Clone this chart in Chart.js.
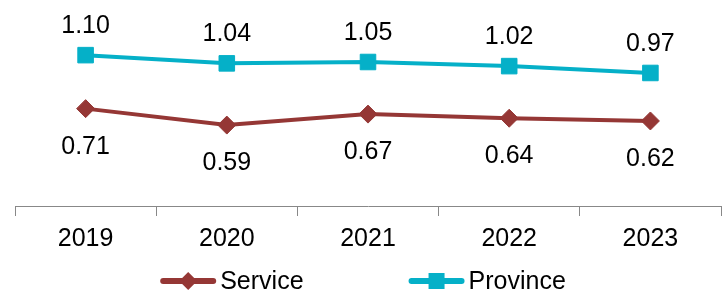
<!DOCTYPE html>
<html>
<head>
<meta charset="utf-8">
<script src="https://cdn.jsdelivr.net/npm/chart.js@4/dist/chart.umd.min.js"></script>
<style>
  html, body { margin: 0; padding: 0; background: #fff; }
  #wrap { width: 726px; height: 292px; }
</style>
</head>
<body>
<div id="wrap"><canvas id="chart"></canvas></div>
<script>
// ── data ──
const years    = ['2019', '2020', '2021', '2022', '2023'];
const service  = [0.71, 0.59, 0.67, 0.64, 0.62];
const province = [1.10, 1.04, 1.05, 1.02, 0.97];

const RED  = '#953735';
const TEAL = '#05b0c8';
const FONT = 'Arial, "Liberation Sans", sans-serif';
const FSIZE = 25;

// value labels above / below the points
const valueLabels = {
  id: 'valueLabels',
  afterDatasetsDraw(chart) {
    const ctx = chart.ctx;
    ctx.save();
    ctx.font = FSIZE + 'px ' + FONT;
    ctx.fillStyle = '#000';
    ctx.textAlign = 'center';
    ctx.textBaseline = 'alphabetic';
    chart.data.datasets.forEach((ds, i) => {
      chart.getDatasetMeta(i).data.forEach((pt, j) => {
        const dy = ds.labelPos === 'above' ? -22 : 45;
        ctx.fillText(ds.data[j].toFixed(2), pt.x, pt.y + dy);
      });
    });
    ctx.restore();
  }
};

// legend: line with marker, then name; drawn centred under the axis
const lineLegend = {
  id: 'lineLegend',
  afterDraw(chart) {
    const ctx = chart.ctx;
    const sw = 56, gap = 4, between = 105, lineY = 281, baseY = 289;
    ctx.save();
    ctx.font = FSIZE + 'px ' + FONT;
    const items = chart.data.datasets.map(ds => ({ ds, w: ctx.measureText(ds.label).width }));
    const total = items.reduce((s, it) => s + sw + gap + it.w, 0) + between * (items.length - 1);
    let x = (chart.width - total) / 2;
    items.forEach(({ ds, w }) => {
      ctx.strokeStyle = ds.borderColor; ctx.fillStyle = ds.borderColor;
      ctx.lineWidth = 6; ctx.lineCap = 'round';
      ctx.beginPath(); ctx.moveTo(x + 3, lineY); ctx.lineTo(x + sw - 3, lineY); ctx.stroke();
      const cx = x + sw / 2;
      ctx.beginPath();
      if (ds.pointStyle === 'rectRot') {
        ctx.moveTo(cx, lineY - 9); ctx.lineTo(cx + 9, lineY); ctx.lineTo(cx, lineY + 9); ctx.lineTo(cx - 9, lineY);
      } else {
        ctx.rect(cx - 8, lineY - 8, 16, 16);
      }
      ctx.closePath(); ctx.fill();
      ctx.fillStyle = '#000'; ctx.textAlign = 'left'; ctx.textBaseline = 'alphabetic';
      ctx.fillText(ds.label, x + sw + gap, baseY);
      x += sw + gap + w + between;
    });
    ctx.restore();
  }
};

new Chart(document.getElementById('chart'), {
  type: 'line',
  data: {
    labels: years,
    datasets: [
      { label: 'Service', data: service, borderColor: RED, backgroundColor: RED,
        borderWidth: 4, pointStyle: 'rectRot', pointRadius: 9, pointHoverRadius: 9, pointBorderWidth: 1,
        labelPos: 'below' },
      { label: 'Province', data: province, borderColor: TEAL, backgroundColor: TEAL,
        borderWidth: 4, pointStyle: 'rect', pointRadius: 11, pointHoverRadius: 11, pointBorderWidth: 1,
        labelPos: 'above' }
    ]
  },
  options: {
    responsive: true, maintainAspectRatio: false, animation: false,
    layout: { autoPadding: false, padding: { left: 15, right: 5, top: 14, bottom: 30 } },
    plugins: {
      tooltip: { enabled: false },
      legend: { display: false }
    },
    scales: {
      x: {
        offset: true,
        grid: { offset: true, drawOnChartArea: false, tickLength: 10, color: '#888', tickWidth: 1 },
        border: { display: true, color: '#888', width: 1 },
        ticks: { color: '#000', font: { size: FSIZE, family: FONT }, padding: 8 }
      },
      y: { display: false, min: 0, max: 1.4 }
    }
  },
  plugins: [valueLabels, lineLegend]
});
</script>
</body>
</html>
